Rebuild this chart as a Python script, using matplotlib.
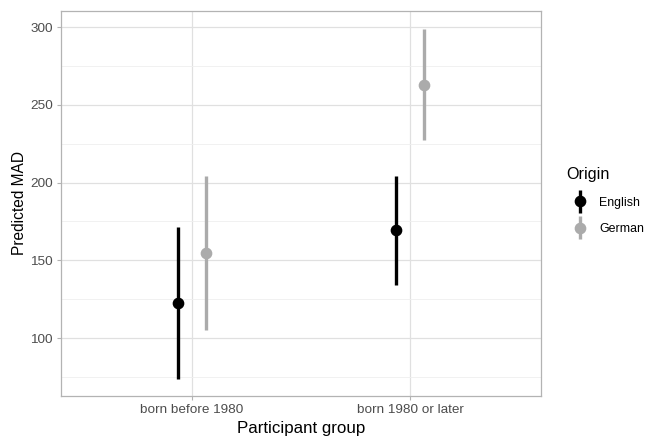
import matplotlib.pyplot as plt
from matplotlib.legend_handler import HandlerErrorbar
from matplotlib.container import ErrorbarContainer
import numpy as np

plt.rcParams['font.family'] = ['Liberation Sans', 'DejaVu Sans']

groups = ['born before 1980', 'born 1980 or later']
origins = ['English', 'German']
colors = ['#000000', '#ABABAB']

# predicted MAD with lower / upper interval bounds
pred = {'English': [122.7, 169.3], 'German': [154.7, 263.0]}
lower = {'English': [73.6, 134.4], 'German': [105.1, 227.5]}
upper = {'English': [171.7, 204.0], 'German': [204.0, 298.5]}

fig = plt.figure(figsize=(6.51, 4.37), dpi=100)
ax = fig.add_axes([61/651, 1 - 396/437, 480/651, 385/437])

x = np.arange(1, len(groups) + 1)
offs = [-0.0625, 0.0625]
handles = []
for i, o in enumerate(origins):
    y = np.array(pred[o])
    yerr = [y - np.array(lower[o]), np.array(upper[o]) - y]
    h = ax.errorbar(x + offs[i], y, yerr=yerr, fmt='o', color=colors[i],
                    ms=7.4, elinewidth=2.4, capsize=0, label=o, zorder=3)
    handles.append(h)

ax.set_xlim(0.4, 2.6)
ax.set_ylim(62.7, 310.3)
ax.set_xticks(x)
ax.set_xticklabels(groups)
ax.set_yticks([100, 150, 200, 250, 300])
ax.set_yticks([75, 125, 175, 225, 275], minor=True)
ax.grid(which='major', color='#E0E0E0', lw=0.9)
ax.grid(which='minor', axis='y', color='#EFEFEF', lw=0.6)
ax.set_axisbelow(True)
for s in ax.spines.values():
    s.set_color('#B3B3B3')
    s.set_linewidth(0.9)
ax.tick_params(which='major', length=3, color='#B3B3B3', labelcolor='#4D4D4D',
               labelsize=9.7, pad=3)
ax.tick_params(which='minor', length=0)

ax.set_xlabel('Participant group', fontsize=12.2, labelpad=3)
ax.set_ylabel('Predicted MAD', fontsize=11.2, labelpad=2)

leg = fig.legend(handles=handles, labels=origins, title='Origin',
                 loc='upper left', bbox_to_anchor=(566/651, 1 - 167/437),
                 frameon=False, fontsize=8.9, title_fontsize=11.6,
                 borderpad=0, borderaxespad=0,
                 handlelength=2.2, handletextpad=0.5, labelspacing=1.18,
                 handler_map={ErrorbarContainer: HandlerErrorbar(yerr_size=0.93, numpoints=1)})
leg._legend_box.align = 'left'

plt.savefig('out.png', dpi=100)
